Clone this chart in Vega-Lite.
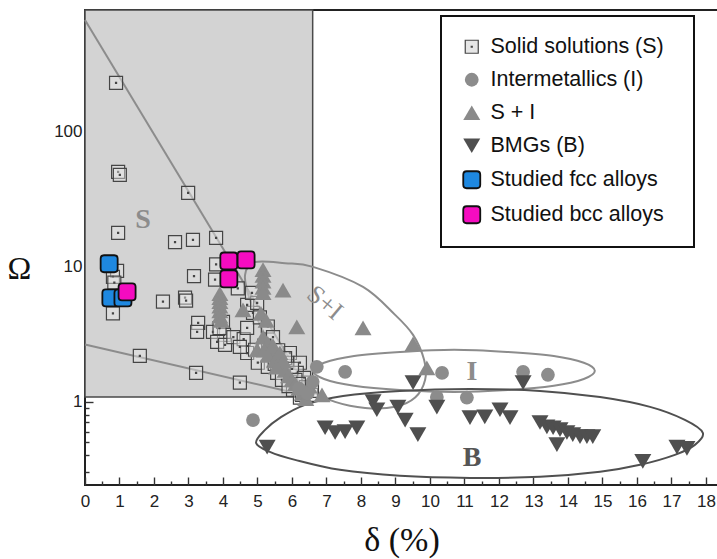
{
  "$schema": "https://vega.github.io/schema/vega-lite/v6.json",
  "width": 633,
  "height": 475,
  "autosize": {"type": "none"},
  "padding": {"left": 85, "top": 10, "right": 0, "bottom": 74},
  "background": "white",
  "config": {
    "view": {"stroke": "#222", "strokeWidth": 2},
    "font": "Liberation Sans",
    "axis": {
      "grid": false,
      "domain": false,
      "labelFont": "Liberation Sans",
      "labelFontSize": 17,
      "labelColor": "#222",
      "tickColor": "#333",
      "tickWidth": 1.4,
      "labelFlush": false,
      "labelOverlap": false
    },
    "legend": {"strokeWidth": 2}
  },
  "datasets": {
    "region": [{"d0": 0, "d1": 6.6, "o0": 1.08, "o1": 796}],
    "bounds": [
      {"g": "upper", "d": 0, "o": 672},
      {"g": "upper", "d": 6.6, "o": 1.08},
      {"g": "lower", "d": 0, "o": 2.65},
      {"g": "lower", "d": 6.6, "o": 1.08}
    ],
    "loops": [
      {"g": "SI", "k": 0, "d": 4.93, "o": 10.8},
      {"g": "SI", "k": 1, "d": 5.8, "o": 10.6},
      {"g": "SI", "k": 2, "d": 6.61, "o": 9.95},
      {"g": "SI", "k": 3, "d": 8.06, "o": 7.07},
      {"g": "SI", "k": 4, "d": 8.99, "o": 4.39},
      {"g": "SI", "k": 5, "d": 9.51, "o": 3.12},
      {"g": "SI", "k": 6, "d": 9.83, "o": 2.04},
      {"g": "SI", "k": 7, "d": 9.86, "o": 1.45},
      {"g": "SI", "k": 8, "d": 9.57, "o": 1.07},
      {"g": "SI", "k": 9, "d": 8.99, "o": 0.914},
      {"g": "SI", "k": 10, "d": 8.12, "o": 0.898},
      {"g": "SI", "k": 11, "d": 7.25, "o": 0.995},
      {"g": "SI", "k": 12, "d": 6.52, "o": 1.22},
      {"g": "SI", "k": 13, "d": 5.8, "o": 1.87},
      {"g": "SI", "k": 14, "d": 5.22, "o": 3.12},
      {"g": "SI", "k": 15, "d": 4.78, "o": 5.67},
      {"g": "SI", "k": 16, "d": 4.64, "o": 8.68},
      {"g": "I", "k": 0, "d": 14.78, "o": 1.69},
      {"g": "I", "k": 1, "d": 14.46, "o": 1.94},
      {"g": "I", "k": 2, "d": 13.59, "o": 2.18},
      {"g": "I", "k": 3, "d": 12.26, "o": 2.33},
      {"g": "I", "k": 4, "d": 10.7, "o": 2.42},
      {"g": "I", "k": 5, "d": 9.13, "o": 2.33},
      {"g": "I", "k": 6, "d": 7.8, "o": 2.18},
      {"g": "I", "k": 7, "d": 6.93, "o": 1.94},
      {"g": "I", "k": 8, "d": 6.61, "o": 1.69},
      {"g": "I", "k": 9, "d": 6.93, "o": 1.47},
      {"g": "I", "k": 10, "d": 7.8, "o": 1.31},
      {"g": "I", "k": 11, "d": 9.13, "o": 1.22},
      {"g": "I", "k": 12, "d": 10.7, "o": 1.18},
      {"g": "I", "k": 13, "d": 12.26, "o": 1.22},
      {"g": "I", "k": 14, "d": 13.59, "o": 1.31},
      {"g": "I", "k": 15, "d": 14.46, "o": 1.47},
      {"g": "B", "k": 0, "d": 4.96, "o": 0.494},
      {"g": "B", "k": 1, "d": 5.22, "o": 0.617},
      {"g": "B", "k": 2, "d": 5.65, "o": 0.758},
      {"g": "B", "k": 3, "d": 6.38, "o": 0.946},
      {"g": "B", "k": 4, "d": 7.48, "o": 1.1},
      {"g": "B", "k": 5, "d": 9.13, "o": 1.2},
      {"g": "B", "k": 6, "d": 11.16, "o": 1.24},
      {"g": "B", "k": 7, "d": 13.19, "o": 1.2},
      {"g": "B", "k": 8, "d": 14.93, "o": 1.08},
      {"g": "B", "k": 9, "d": 16.38, "o": 0.914},
      {"g": "B", "k": 10, "d": 17.39, "o": 0.732},
      {"g": "B", "k": 11, "d": 17.91, "o": 0.587},
      {"g": "B", "k": 12, "d": 17.68, "o": 0.478},
      {"g": "B", "k": 13, "d": 17.1, "o": 0.403},
      {"g": "B", "k": 14, "d": 16.09, "o": 0.34},
      {"g": "B", "k": 15, "d": 14.93, "o": 0.302},
      {"g": "B", "k": 16, "d": 13.19, "o": 0.277},
      {"g": "B", "k": 17, "d": 11.16, "o": 0.272},
      {"g": "B", "k": 18, "d": 9.13, "o": 0.282},
      {"g": "B", "k": 19, "d": 7.39, "o": 0.312},
      {"g": "B", "k": 20, "d": 6.09, "o": 0.37},
      {"g": "B", "k": 21, "d": 5.36, "o": 0.424}
    ],
    "alloys": [
      {"cls": "Solid solutions (S)", "d": 0.9, "o": 230},
      {"cls": "Solid solutions (S)", "d": 0.96, "o": 50.3},
      {"cls": "Solid solutions (S)", "d": 1.01, "o": 47.8},
      {"cls": "Solid solutions (S)", "d": 2.99, "o": 35.2},
      {"cls": "Solid solutions (S)", "d": 0.96, "o": 17.8},
      {"cls": "Solid solutions (S)", "d": 2.61, "o": 15.2},
      {"cls": "Solid solutions (S)", "d": 3.13, "o": 15.8},
      {"cls": "Solid solutions (S)", "d": 3.8, "o": 16.3},
      {"cls": "Solid solutions (S)", "d": 0.93, "o": 9.3},
      {"cls": "Solid solutions (S)", "d": 0.81, "o": 8.4},
      {"cls": "Solid solutions (S)", "d": 0.85, "o": 7.6},
      {"cls": "Solid solutions (S)", "d": 3.16, "o": 8.5},
      {"cls": "Solid solutions (S)", "d": 3.8, "o": 10.4},
      {"cls": "Solid solutions (S)", "d": 3.77, "o": 8.0},
      {"cls": "Solid solutions (S)", "d": 0.81, "o": 4.5},
      {"cls": "Solid solutions (S)", "d": 2.26, "o": 5.5},
      {"cls": "Solid solutions (S)", "d": 2.9, "o": 5.9},
      {"cls": "Solid solutions (S)", "d": 2.93, "o": 5.6},
      {"cls": "Solid solutions (S)", "d": 4.43, "o": 6.9},
      {"cls": "Solid solutions (S)", "d": 1.59, "o": 2.18},
      {"cls": "Solid solutions (S)", "d": 3.22, "o": 1.63},
      {"cls": "Solid solutions (S)", "d": 4.49, "o": 1.38},
      {"cls": "Solid solutions (S)", "d": 3.28, "o": 3.83},
      {"cls": "Solid solutions (S)", "d": 3.25, "o": 3.28},
      {"cls": "Solid solutions (S)", "d": 3.71, "o": 3.28},
      {"cls": "Solid solutions (S)", "d": 4.0, "o": 3.89},
      {"cls": "Solid solutions (S)", "d": 4.03, "o": 3.12},
      {"cls": "Solid solutions (S)", "d": 3.83, "o": 2.77},
      {"cls": "Solid solutions (S)", "d": 4.06, "o": 2.63},
      {"cls": "Solid solutions (S)", "d": 3.9, "o": 3.5},
      {"cls": "Solid solutions (S)", "d": 4.3, "o": 3.0},
      {"cls": "Solid solutions (S)", "d": 4.6, "o": 2.9},
      {"cls": "Solid solutions (S)", "d": 4.7, "o": 3.51},
      {"cls": "Solid solutions (S)", "d": 4.7, "o": 2.29},
      {"cls": "Solid solutions (S)", "d": 4.49, "o": 2.54},
      {"cls": "Solid solutions (S)", "d": 4.93, "o": 2.42},
      {"cls": "Solid solutions (S)", "d": 5.01, "o": 1.94},
      {"cls": "Solid solutions (S)", "d": 5.3, "o": 1.81},
      {"cls": "Solid solutions (S)", "d": 5.57, "o": 1.63},
      {"cls": "Solid solutions (S)", "d": 5.71, "o": 1.45},
      {"cls": "Solid solutions (S)", "d": 5.94, "o": 2.29},
      {"cls": "Solid solutions (S)", "d": 5.88, "o": 1.94},
      {"cls": "Solid solutions (S)", "d": 6.23, "o": 1.94},
      {"cls": "Solid solutions (S)", "d": 6.14, "o": 1.63},
      {"cls": "Solid solutions (S)", "d": 6.32, "o": 1.38},
      {"cls": "Solid solutions (S)", "d": 6.03, "o": 1.22},
      {"cls": "Solid solutions (S)", "d": 6.23, "o": 1.07},
      {"cls": "Solid solutions (S)", "d": 4.87, "o": 4.54},
      {"cls": "Solid solutions (S)", "d": 4.7, "o": 5.2},
      {"cls": "Solid solutions (S)", "d": 4.99, "o": 5.38},
      {"cls": "Solid solutions (S)", "d": 4.84, "o": 6.39},
      {"cls": "Solid solutions (S)", "d": 5.07, "o": 4.2},
      {"cls": "Solid solutions (S)", "d": 5.3, "o": 3.6},
      {"cls": "Solid solutions (S)", "d": 5.45, "o": 3.0},
      {"cls": "Solid solutions (S)", "d": 5.2, "o": 2.6},
      {"cls": "Solid solutions (S)", "d": 5.6, "o": 2.4},
      {"cls": "Solid solutions (S)", "d": 5.8, "o": 2.1},
      {"cls": "Solid solutions (S)", "d": 6.0, "o": 1.75},
      {"cls": "Solid solutions (S)", "d": 6.35, "o": 1.5},
      {"cls": "Solid solutions (S)", "d": 6.45, "o": 1.25},
      {"cls": "Solid solutions (S)", "d": 6.1, "o": 1.45},
      {"cls": "Solid solutions (S)", "d": 5.5, "o": 1.9},
      {"cls": "Solid solutions (S)", "d": 6.55, "o": 1.12},
      {"cls": "Solid solutions (S)", "d": 6.4, "o": 1.28},
      {"cls": "Solid solutions (S)", "d": 6.58, "o": 1.2},
      {"cls": "Solid solutions (S)", "d": 6.29, "o": 1.12},
      {"cls": "Solid solutions (S)", "d": 5.9, "o": 1.3},
      {"cls": "Solid solutions (S)", "d": 6.2, "o": 1.35},
      {"cls": "S + I", "d": 3.91, "o": 6.3},
      {"cls": "S + I", "d": 3.91, "o": 5.9},
      {"cls": "S + I", "d": 3.91, "o": 5.5},
      {"cls": "S + I", "d": 3.91, "o": 5.1},
      {"cls": "S + I", "d": 3.91, "o": 4.7},
      {"cls": "S + I", "d": 3.91, "o": 4.3},
      {"cls": "S + I", "d": 3.95, "o": 4.0},
      {"cls": "S + I", "d": 5.16, "o": 9.5},
      {"cls": "S + I", "d": 5.16, "o": 8.6},
      {"cls": "S + I", "d": 5.16, "o": 7.8},
      {"cls": "S + I", "d": 5.16, "o": 7.0},
      {"cls": "S + I", "d": 5.16, "o": 6.4},
      {"cls": "S + I", "d": 5.74, "o": 6.7},
      {"cls": "S + I", "d": 6.14, "o": 3.57},
      {"cls": "S + I", "d": 4.58, "o": 4.78},
      {"cls": "S + I", "d": 8.06, "o": 3.51},
      {"cls": "S + I", "d": 9.51, "o": 2.68},
      {"cls": "S + I", "d": 9.91, "o": 1.78},
      {"cls": "S + I", "d": 6.87, "o": 1.12},
      {"cls": "S + I", "d": 4.99, "o": 2.42},
      {"cls": "S + I", "d": 5.1, "o": 4.5},
      {"cls": "S + I", "d": 5.25, "o": 4.0},
      {"cls": "S + I", "d": 5.16, "o": 3.0},
      {"cls": "S + I", "d": 5.3, "o": 2.7},
      {"cls": "S + I", "d": 5.4, "o": 2.5},
      {"cls": "S + I", "d": 5.5, "o": 2.3},
      {"cls": "S + I", "d": 5.6, "o": 2.1},
      {"cls": "S + I", "d": 5.7, "o": 1.9},
      {"cls": "S + I", "d": 5.8, "o": 1.7},
      {"cls": "S + I", "d": 5.9, "o": 1.55},
      {"cls": "S + I", "d": 6.0, "o": 1.45},
      {"cls": "S + I", "d": 6.1, "o": 1.35},
      {"cls": "S + I", "d": 6.2, "o": 1.25},
      {"cls": "S + I", "d": 5.3, "o": 2.2},
      {"cls": "S + I", "d": 5.5, "o": 2.0},
      {"cls": "S + I", "d": 5.2, "o": 2.4},
      {"cls": "S + I", "d": 6.3, "o": 1.15},
      {"cls": "S + I", "d": 6.4, "o": 1.05},
      {"cls": "S + I", "d": 5.45, "o": 2.6},
      {"cls": "S + I", "d": 5.65, "o": 2.3},
      {"cls": "S + I", "d": 5.75, "o": 2.0},
      {"cls": "S + I", "d": 5.55, "o": 1.8},
      {"cls": "S + I", "d": 6.5, "o": 1.3},
      {"cls": "Intermetallics (I)", "d": 4.87, "o": 0.73},
      {"cls": "Intermetallics (I)", "d": 6.72, "o": 1.81},
      {"cls": "Intermetallics (I)", "d": 7.54, "o": 1.66},
      {"cls": "Intermetallics (I)", "d": 10.35, "o": 1.63},
      {"cls": "Intermetallics (I)", "d": 12.7, "o": 1.66},
      {"cls": "Intermetallics (I)", "d": 13.42, "o": 1.58},
      {"cls": "Intermetallics (I)", "d": 10.2, "o": 1.08},
      {"cls": "Intermetallics (I)", "d": 11.07, "o": 1.07},
      {"cls": "Intermetallics (I)", "d": 6.2, "o": 1.25},
      {"cls": "Intermetallics (I)", "d": 6.45, "o": 1.15},
      {"cls": "Intermetallics (I)", "d": 6.6, "o": 1.4},
      {"cls": "BMGs (B)", "d": 9.51, "o": 1.38},
      {"cls": "BMGs (B)", "d": 8.35, "o": 1.0},
      {"cls": "BMGs (B)", "d": 8.46, "o": 0.87},
      {"cls": "BMGs (B)", "d": 9.07, "o": 0.91},
      {"cls": "BMGs (B)", "d": 10.2, "o": 0.91},
      {"cls": "BMGs (B)", "d": 9.28, "o": 0.73},
      {"cls": "BMGs (B)", "d": 9.65, "o": 0.57},
      {"cls": "BMGs (B)", "d": 6.96, "o": 0.64},
      {"cls": "BMGs (B)", "d": 7.25, "o": 0.59},
      {"cls": "BMGs (B)", "d": 7.54, "o": 0.6},
      {"cls": "BMGs (B)", "d": 7.88, "o": 0.64},
      {"cls": "BMGs (B)", "d": 11.16, "o": 0.76},
      {"cls": "BMGs (B)", "d": 11.59, "o": 0.77},
      {"cls": "BMGs (B)", "d": 12.03, "o": 0.87},
      {"cls": "BMGs (B)", "d": 12.32, "o": 0.76},
      {"cls": "BMGs (B)", "d": 12.7, "o": 1.38},
      {"cls": "BMGs (B)", "d": 13.19, "o": 0.7},
      {"cls": "BMGs (B)", "d": 13.39, "o": 0.65},
      {"cls": "BMGs (B)", "d": 13.57, "o": 0.64},
      {"cls": "BMGs (B)", "d": 13.77, "o": 0.62},
      {"cls": "BMGs (B)", "d": 13.97, "o": 0.59},
      {"cls": "BMGs (B)", "d": 14.14, "o": 0.57},
      {"cls": "BMGs (B)", "d": 14.35, "o": 0.55},
      {"cls": "BMGs (B)", "d": 14.55, "o": 0.55},
      {"cls": "BMGs (B)", "d": 14.72, "o": 0.55},
      {"cls": "BMGs (B)", "d": 13.68, "o": 0.48},
      {"cls": "BMGs (B)", "d": 16.17, "o": 0.36},
      {"cls": "BMGs (B)", "d": 17.16, "o": 0.46},
      {"cls": "BMGs (B)", "d": 17.45, "o": 0.45},
      {"cls": "BMGs (B)", "d": 5.28, "o": 0.46},
      {"cls": "Studied fcc alloys", "d": 0.7, "o": 10.5},
      {"cls": "Studied fcc alloys", "d": 0.75, "o": 5.86},
      {"cls": "Studied fcc alloys", "d": 1.1, "o": 5.86},
      {"cls": "Studied bcc alloys", "d": 1.22, "o": 6.5},
      {"cls": "Studied bcc alloys", "d": 4.17, "o": 11.0},
      {"cls": "Studied bcc alloys", "d": 4.67, "o": 11.2},
      {"cls": "Studied bcc alloys", "d": 4.17, "o": 8.1}
    ],
    "tags": [
      {"t": "S", "d": 1.68, "o": 22.2},
      {"t": "I", "d": 11.22, "o": 1.66}
    ],
    "tagB": [{"t": "B", "d": 11.22, "o": 0.38}],
    "tagSI": [{"t": "S+I", "d": 6.95, "o": 5.4}]
  },
  "resolve": {"axis": {"x": "independent", "y": "independent"}},
  "layer": [
    {
      "data": {"name": "region"},
      "mark": {"type": "rect", "fill": "#d3d3d3", "stroke": "#4a4a4a", "strokeWidth": 1.5},
      "encoding": {
        "x": {
          "field": "d0", "type": "quantitative",
          "scale": {"type": "linear", "domain": [0, 18.35], "nice": false, "zero": false},
          "axis": {
            "orient": "bottom",
            "title": "δ (%)",
            "values": [0, 1, 2, 3, 4, 5, 6, 7, 8, 9, 10, 11, 12, 13, 14, 15, 16, 17, 18],
            "offset": -8,
            "tickSize": 8,
            "labelPadding": 8,
            "titleFont": "Liberation Serif",
            "titleFontSize": 34,
            "titleFontWeight": "normal",
            "titleColor": "#111",
            "titleBaseline": "alphabetic",
            "titleY": 73
          }
        },
        "x2": {"field": "d1"},
        "y": {
          "field": "o0", "type": "quantitative",
          "scale": {"type": "log", "domain": [0.241, 796], "nice": false},
          "axis": {
            "orient": "left",
            "title": "Ω",
            "values": [1, 10, 100],
            "format": "d",
            "offset": -8,
            "tickSize": 8,
            "labelPadding": 3,
            "titleAngle": 0,
            "titleX": -74,
            "titleY": 258,
            "titleAlign": "center",
            "titleBaseline": "middle",
            "titleFont": "Liberation Serif",
            "titleFontSize": 32,
            "titleFontWeight": "normal",
            "titleColor": "#111"
          }
        },
        "y2": {"field": "o1"}
      }
    },
    {
      "data": {"name": "bounds"},
      "mark": {"type": "line", "color": "#8c8c8c", "strokeWidth": 2},
      "encoding": {
        "x": {
          "field": "d", "type": "quantitative",
          "scale": {"type": "linear", "domain": [0, 18.35], "nice": false, "zero": false},
          "axis": {
            "orient": "bottom", "title": null, "labels": false, "offset": -4, "tickSize": 4,
            "values": [0.5, 1.5, 2.5, 3.5, 4.5, 5.5, 6.5, 7.5, 8.5, 9.5, 10.5, 11.5, 12.5, 13.5, 14.5, 15.5, 16.5, 17.5]
          }
        },
        "y": {
          "field": "o", "type": "quantitative",
          "scale": {"type": "log", "domain": [0.241, 796], "nice": false},
          "axis": {
            "orient": "left", "title": null, "labels": false, "offset": -4, "tickSize": 4,
            "values": [0.3, 0.4, 0.5, 0.6, 0.7, 0.8, 0.9, 2, 3, 4, 5, 6, 7, 8, 9, 20, 30, 40, 50, 60, 70, 80, 90, 200, 300, 400, 500, 600, 700]
          }
        },
        "detail": {"field": "g"}
      }
    },
    {
      "data": {"name": "loops"},
      "transform": [{"filter": "datum.g !== 'B'"}],
      "mark": {"type": "line", "color": "#8c8c8c", "strokeWidth": 2, "interpolate": "cardinal-closed"},
      "encoding": {
        "x": {"field": "d", "type": "quantitative", "scale": {"type": "linear", "domain": [0, 18.35], "nice": false, "zero": false}, "axis": null},
        "y": {"field": "o", "type": "quantitative", "scale": {"type": "log", "domain": [0.241, 796], "nice": false}, "axis": null},
        "detail": {"field": "g"},
        "order": {"field": "k", "type": "quantitative"}
      }
    },
    {
      "data": {"name": "loops"},
      "transform": [{"filter": "datum.g === 'B'"}],
      "mark": {"type": "line", "color": "#505050", "strokeWidth": 2, "interpolate": "cardinal-closed"},
      "encoding": {
        "x": {"field": "d", "type": "quantitative", "scale": {"type": "linear", "domain": [0, 18.35], "nice": false, "zero": false}, "axis": null},
        "y": {"field": "o", "type": "quantitative", "scale": {"type": "log", "domain": [0.241, 796], "nice": false}, "axis": null},
        "order": {"field": "k", "type": "quantitative"}
      }
    },
    {
      "data": {"name": "alloys"},
      "mark": {"type": "point", "filled": true, "opacity": 1},
      "encoding": {
        "x": {"field": "d", "type": "quantitative", "scale": {"type": "linear", "domain": [0, 18.35], "nice": false, "zero": false}, "axis": null},
        "y": {"field": "o", "type": "quantitative", "scale": {"type": "log", "domain": [0.241, 796], "nice": false}, "axis": null},
        "shape": {
          "field": "cls", "type": "nominal", "title": "\u00a0",
          "scale": {
            "domain": ["Solid solutions (S)", "Intermetallics (I)", "S + I", "BMGs (B)", "Studied fcc alloys", "Studied bcc alloys"],
            "range": [
              "M-1,-1H1V1H-1Z M-0.08,-0.08H0.08V0.08H-0.08Z",
              "circle",
              "triangle-up",
              "triangle-down",
              "M-1,-0.6Q-1,-1,-0.6,-1H0.6Q1,-1,1,-0.6V0.6Q1,1,0.6,1H-0.6Q-1,1,-1,0.6Z",
              "M-1,-0.6Q-1,-1,-0.6,-1H0.6Q1,-1,1,-0.6V0.6Q1,1,0.6,1H-0.6Q-1,1,-1,0.6Z"
            ]
          },
          "legend": {
            "orient": "none",
            "legendX": 356,
            "legendY": 6,
            "padding": 20,
            "rowPadding": 10,
            "labelOffset": 8,
            "labelFont": "Liberation Sans",
            "labelFontSize": 21.5,
            "labelColor": "#111",
            "labelLimit": 400,
            "strokeColor": "#111",
            "fillColor": "white",
            "titleOrient": "right",
            "titlePadding": 10,
            "titleFontSize": 4
          }
        },
        "fill": {
          "field": "cls", "type": "nominal", "title": "\u00a0",
          "scale": {
            "domain": ["Solid solutions (S)", "Intermetallics (I)", "S + I", "BMGs (B)", "Studied fcc alloys", "Studied bcc alloys"],
            "range": ["#e6e6e6", "#8c8c8c", "#8a8a8a", "#4f4f4f", "#1e88e0", "#f50cc0"]
          }
        },
        "stroke": {
          "field": "cls", "type": "nominal", "title": "\u00a0",
          "scale": {
            "domain": ["Solid solutions (S)", "Intermetallics (I)", "S + I", "BMGs (B)", "Studied fcc alloys", "Studied bcc alloys"],
            "range": ["#454545", "#8c8c8c", "#8a8a8a", "#4f4f4f", "#111111", "#111111"]
          }
        },
        "size": {
          "field": "cls", "type": "nominal", "title": "\u00a0",
          "scale": {
            "type": "ordinal",
            "domain": ["Solid solutions (S)", "Intermetallics (I)", "S + I", "BMGs (B)", "Studied fcc alloys", "Studied bcc alloys"],
            "range": [169, 190, 289, 289, 289, 289]
          }
        },
        "strokeWidth": {
          "field": "cls", "type": "nominal", "title": "\u00a0",
          "scale": {
            "type": "ordinal",
            "domain": ["Solid solutions (S)", "Intermetallics (I)", "S + I", "BMGs (B)", "Studied fcc alloys", "Studied bcc alloys"],
            "range": [1.2, 0, 0, 0, 1.8, 1.8]
          }
        },
        "fillOpacity": {
          "field": "cls", "type": "nominal", "title": "\u00a0",
          "scale": {
            "type": "ordinal",
            "domain": ["Solid solutions (S)", "Intermetallics (I)", "S + I", "BMGs (B)", "Studied fcc alloys", "Studied bcc alloys"],
            "range": [0.45, 1, 1, 1, 1, 1]
          }
        }
      }
    },
    {
      "data": {"name": "tags"},
      "mark": {"type": "text", "font": "Liberation Serif", "fontWeight": "bold", "fontSize": 28, "color": "#8c8c8c", "align": "center", "baseline": "middle"},
      "encoding": {
        "x": {"field": "d", "type": "quantitative", "scale": {"type": "linear", "domain": [0, 18.35], "nice": false, "zero": false}, "axis": null},
        "y": {"field": "o", "type": "quantitative", "scale": {"type": "log", "domain": [0.241, 796], "nice": false}, "axis": null},
        "text": {"field": "t"}
      }
    },
    {
      "data": {"name": "tagB"},
      "mark": {"type": "text", "font": "Liberation Serif", "fontWeight": "bold", "fontSize": 28, "color": "#555555", "align": "center", "baseline": "middle"},
      "encoding": {
        "x": {"field": "d", "type": "quantitative", "scale": {"type": "linear", "domain": [0, 18.35], "nice": false, "zero": false}, "axis": null},
        "y": {"field": "o", "type": "quantitative", "scale": {"type": "log", "domain": [0.241, 796], "nice": false}, "axis": null},
        "text": {"field": "t"}
      }
    },
    {
      "data": {"name": "tagSI"},
      "mark": {"type": "text", "font": "Liberation Serif", "fontSize": 26, "color": "#8c8c8c", "align": "center", "baseline": "middle", "angle": 40},
      "encoding": {
        "x": {"field": "d", "type": "quantitative", "scale": {"type": "linear", "domain": [0, 18.35], "nice": false, "zero": false}, "axis": null},
        "y": {"field": "o", "type": "quantitative", "scale": {"type": "log", "domain": [0.241, 796], "nice": false}, "axis": null},
        "text": {"field": "t"}
      }
    }
  ]
}
